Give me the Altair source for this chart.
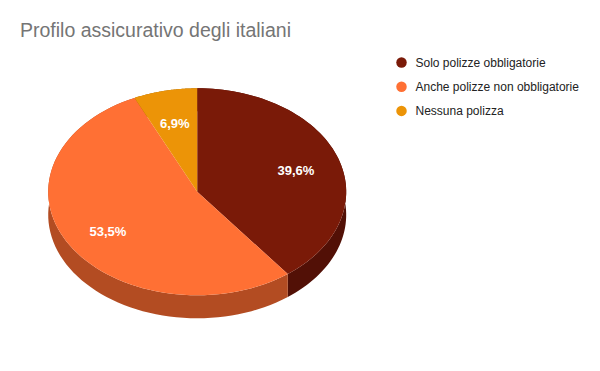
import altair as alt
import pandas as pd

# ---- data ----
categories = ["Solo polizze obbligatorie", "Anche polizze non obbligatorie", "Nessuna polizza"]
values = [39.6, 53.5, 6.9]
order_idx = [0, 1, 2]

# ---- style ----
top_colors = ["#7a1a08", "#ff7034", "#ec9407"]
side_colors = ["#521006", "#b34c22", "#a06404"]
N = 72
CX, CY, RX, RY, DEPTH = 189.2, 183.8, 149, 103.5, 23

df = pd.DataFrame({"cat": categories, "value": values, "idx": order_idx})

xs = alt.Scale(domain=[-1, 1], range=[CX - RX, CX + RX], zero=False, nice=False)
ys = alt.Scale(domain=[-1, 1], range=[CY - RY, CY + RY], zero=False, nice=False)

base = alt.Chart(df).transform_window(
    cum="sum(value)", sort=[alt.SortField("idx")], frame=[None, 0]
).transform_joinaggregate(total="sum(value)").transform_calculate(
    a0="2*PI*(datum.cum - datum.value)/datum.total",
    a1="2*PI*datum.cum/datum.total",
)

# side walls
side = base.transform_calculate(
    k=f"sequence(0, {2 * N + 2})"
).transform_flatten(["k"]).transform_calculate(
    t=f"datum.k <= {N} ? datum.k/{N} : ({2 * N + 1} - datum.k)/{N}",
    off=f"datum.k <= {N} ? 0 : {2 * DEPTH / (2 * RY)}",
).transform_calculate(
    ang="datum.a0 + (datum.a1 - datum.a0)*datum.t",
).transform_calculate(
    px="sin(datum.ang)",
    py="-cos(datum.ang) + datum.off",
).mark_line(filled=True, strokeWidth=0).encode(
    x=alt.X("px:Q", scale=xs, axis=None),
    y=alt.Y("py:Q", scale=ys, axis=None),
    color=alt.Color("cat:N", scale=alt.Scale(domain=categories, range=side_colors), legend=None),
    detail="cat:N",
    order="k:Q",
)

# top faces
top = base.transform_calculate(
    k=f"sequence(0, {N + 2})"
).transform_flatten(["k"]).transform_calculate(
    ang=f"datum.a0 + (datum.a1 - datum.a0) * min(datum.k, {N}) / {N}",
).transform_calculate(
    px=f"datum.k > {N} ? 0 : sin(datum.ang)",
    py=f"datum.k > {N} ? 0 : -cos(datum.ang)",
).mark_line(filled=True, strokeWidth=0).encode(
    x=alt.X("px:Q", scale=xs, axis=None),
    y=alt.Y("py:Q", scale=ys, axis=None),
    color=alt.Color(
        "cat:N",
        scale=alt.Scale(domain=categories, range=top_colors),
        legend=alt.Legend(
            title=None, orient="none", legendX=387.5, legendY=48.5,
            symbolType="circle", symbolSize=110, symbolStrokeWidth=0,
            labelFont="Liberation Sans", labelFontSize=12, labelColor="#222222",
            rowPadding=12.2, labelOffset=8, padding=0, labelLimit=300,
        ),
    ),
    detail="cat:N",
    order="k:Q",
)

labels = base.transform_calculate(
    ang="(datum.a0 + datum.a1)/2",
).transform_calculate(
    px="0.7*sin(datum.ang)",
    py="-0.7*cos(datum.ang)",
    lab="replace(format(datum.value, '.1f'), '.', ',') + '%'",
).mark_text(
    color="white", fontWeight="bold", fontSize=13, font="Liberation Sans",
    baseline="middle", align="center", dy=2.5,
).encode(
    x=alt.X("px:Q", scale=xs, axis=None),
    y=alt.Y("py:Q", scale=ys, axis=None),
    text="lab:N",
)

chart = alt.layer(side, top, labels).resolve_scale(color="independent").properties(
    width=584,
    height=355,
    autosize=alt.AutoSizeParams(type="none"),
    padding=0,
    background="white",
    title=alt.TitleParams(
        "Profilo assicurativo degli italiani", anchor="start", font="Liberation Sans",
        fontSize=19.5, fontWeight="normal", color="#757575", dx=12, dy=33, offset=0,
    ),
).configure_view(stroke=None)

chart.save("out.html", embed_options={"renderer": "svg", "actions": False})
